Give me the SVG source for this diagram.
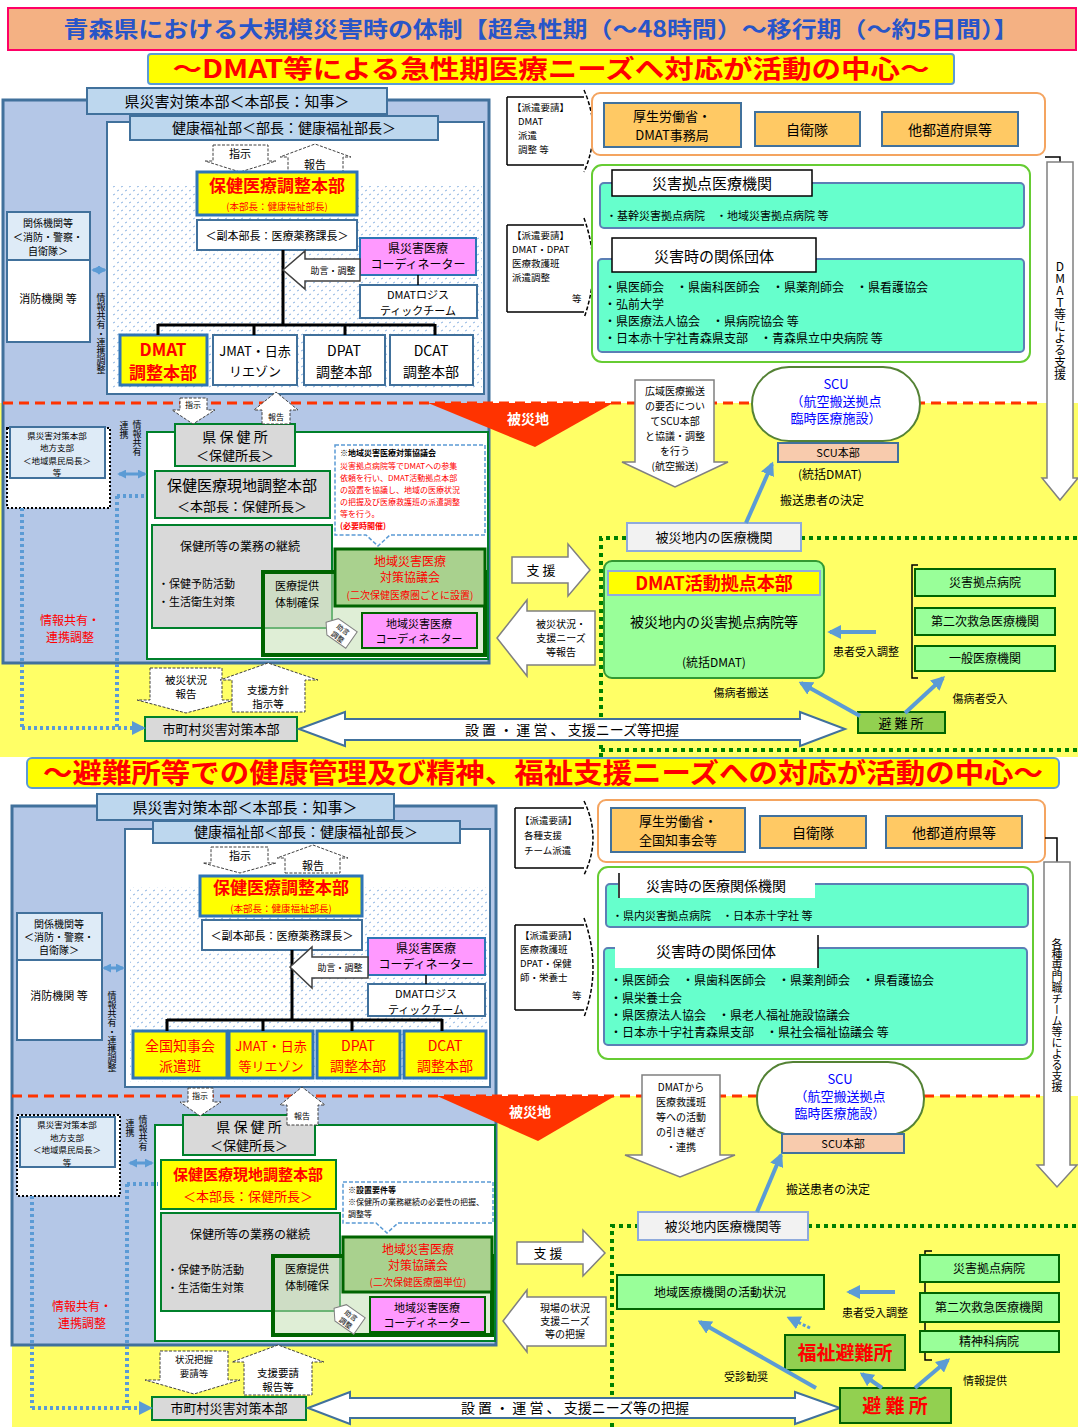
<svg xmlns="http://www.w3.org/2000/svg" width="1078" height="1427" viewBox="0 0 1078 1427">
<defs>
<style>
text{font-family:"Noto Sans CJK JP","Noto Sans",sans-serif;fill:#000}
.c{text-anchor:middle}
.b{font-weight:bold}
.r{fill:#FF0000}
.bl{fill:#0000FF}
.w{fill:#fff}
.v{writing-mode:vertical-rl;text-orientation:upright}
.panel{fill:#B4C7E7;stroke:#41719C;stroke-width:3}
.lb{fill:#BDD7EE;stroke:#41719C;stroke-width:2}
.lb2{fill:#DEEBF7;stroke:#41719C;stroke-width:2}
.wb{fill:#fff;stroke:#41719C;stroke-width:2}
.yb{fill:#FFFF00;stroke:#2E75B6;stroke-width:3}
.yg{fill:#FFFF00;stroke:#00802B;stroke-width:2}
.pk{fill:#FF99FF;stroke:#2E75B6;stroke-width:2}
.pkg{fill:#FF99FF;stroke:#006400;stroke-width:2}
.gy{fill:#D9D9D9;stroke:#00802B;stroke-width:2}
.gw{fill:#fff;stroke:#00802B;stroke-width:2}
.ov{fill:#C5E0B4;fill-opacity:0.55;stroke:#006400;stroke-width:4}
.kg{fill:#A9D18E;stroke:#006400;stroke-width:3}
.or{fill:#FFC964;stroke:#41719C;stroke-width:2}
.obox{fill:#fff;stroke:#F4A460;stroke-width:2}
.gbox{fill:#fff;stroke:#66CC33;stroke-width:2}
.tq{fill:#66FFCC;stroke:#5B7FB5;stroke-width:2}
.tab{fill:#fff;stroke:#000;stroke-width:1.5}
.lg{fill:#99FF99;stroke:#339933;stroke-width:2}
.lg2{fill:#99FF99;stroke:#006400;stroke-width:2}
.ga{fill:#92D050;stroke:#006400;stroke-width:2}
.lgr{fill:#F2F2F2;stroke:#8FAADC;stroke-width:2}
.arw{fill:#fff;stroke:#404040;stroke-width:1;stroke-dasharray:3 1.5}
.sarw{fill:#fff;stroke:#808080;stroke-width:1.5}
.bigarw{fill:#fff;stroke:#41719C;stroke-width:2}
.ln{stroke:#000;stroke-width:3;fill:none}
.ln1{stroke:#000;stroke-width:1.5;fill:none}
.ba{stroke:#5B9BD5;stroke-width:4;fill:none;marker-end:url(#ah)}
.bad{stroke:#5B9BD5;stroke-width:3;fill:none;stroke-dasharray:3 2;marker-end:url(#ah)}
.dbl{stroke:#5B9BD5;stroke-width:3;fill:none;marker-start:url(#ah2);marker-end:url(#ah2)}
.bd{stroke:#5B9BD5;stroke-width:4;fill:none;stroke-dasharray:3 3}
.bde{stroke:#5B9BD5;stroke-width:4;fill:none;stroke-dasharray:3 3;marker-end:url(#ah)}
.rd{stroke:#FF3300;stroke-width:3;stroke-dasharray:10 6;fill:none}
.gd{stroke:#008000;stroke-width:4;stroke-dasharray:4 4;fill:none}
.call{fill:#fff;stroke:#5B9BD5;stroke-width:1.5;stroke-dasharray:4 2}
.kd{fill:#fff;stroke:#000;stroke-width:2;stroke-dasharray:2 2}
</style>
<pattern id="dots" width="8" height="8" patternUnits="userSpaceOnUse">
<rect width="8" height="8" fill="#fff"/>
<path d="M1,3 l2,-1 M5,7 l2,-1" stroke="#8DB4E2" stroke-width="1"/>
</pattern>
<marker id="ah" markerUnits="userSpaceOnUse" markerWidth="14" markerHeight="14" viewBox="0 0 10 10" refX="8" refY="5" orient="auto">
<path d="M0,0 L10,5 L0,10 z" fill="#5B9BD5"/>
</marker>
<marker id="ah2" markerUnits="userSpaceOnUse" markerWidth="9" markerHeight="9" viewBox="0 0 10 10" refX="8" refY="5" orient="auto-start-reverse">
<path d="M0,0 L10,5 L0,10 z" fill="#5B9BD5"/>
</marker>
</defs>

<rect width="1078" height="1427" fill="#fff"/>

<!-- backgrounds -->
<g id="backgrounds">
<rect x="0" y="403" width="1078" height="354" fill="#FFFF66"/>
<rect x="12" y="1096" width="1066" height="331" fill="#FFFF66"/>
<rect class="panel" x="3" y="100" width="486" height="563"/>
<rect class="panel" x="12" y="806" width="484" height="539"/>
<path class="gd" d="M601,757 V538 H627 M801,538 H1078 M601,750 H1078"/>
<path class="gd" d="M612,1427 V1226 H638 M808,1226 H1078"/>
</g>

<!-- titles -->
<g id="title">
<rect x="8" y="8" width="1068" height="42" fill="#F4B183" stroke="#FF0066" stroke-width="2"/>
<text x="541" y="37" class="c b" font-size="22" style="fill:#2855C8" textLength="955" lengthAdjust="spacingAndGlyphs">青森県における大規模災害時の体制【超急性期（～48時間）～移行期（～約5日間）】</text>
</g>
<g id="subtitle1">
<rect x="148" y="54" width="806" height="30" rx="3" fill="#FFFF00" stroke="#5B9BD5" stroke-width="2"/>
<text x="551" y="78" class="c b r" font-size="25" textLength="757" lengthAdjust="spacingAndGlyphs">～DMAT等による急性期医療ニーズへ対応が活動の中心～</text>
</g>
<g id="subtitle2">
<rect x="27" y="758" width="1032" height="30" rx="5" fill="#FFFF00" stroke="#5B9BD5" stroke-width="2"/>
<text x="543" y="783" class="c b r" font-size="27" textLength="1000" lengthAdjust="spacingAndGlyphs">～避難所等での健康管理及び精神、福祉支援ニーズへの対応が活動の中心～</text>
</g>

<!-- ===== UPPER HALF ===== -->
<g id="u-inner">
<rect class="wb" x="107" y="122" width="377" height="272"/>
<rect x="113" y="186" width="369" height="203" fill="url(#dots)"/>
</g>
<g id="u-kensaitai">
<rect class="lb" x="87" y="88" width="300" height="26"/>
<text x="237" y="107" class="c" font-size="15">県災害対策本部＜本部長：知事＞</text>
</g>
<g id="u-kenkofukushi">
<rect class="lb" x="130" y="116" width="308" height="24"/>
<text x="284" y="133" class="c" font-size="14">健康福祉部＜部長：健康福祉部長＞</text>
</g>
<g id="u-shiji">
<polygon class="arw" points="213,145 268,145 268,161 276,161 240,172 205,161 213,161"/>
<text x="240" y="158" class="c" font-size="11">指示</text>
</g>
<g id="u-hokoku">
<polygon class="arw" points="288,172 343,172 343,157 351,157 315,144 280,157 288,157"/>
<text x="315" y="169" class="c" font-size="11">報告</text>
</g>
<g id="u-chosei">
<rect class="yb" x="197" y="172" width="160" height="43"/>
<text x="277" y="192" class="c b r" font-size="17">保健医療調整本部</text>
<text x="277" y="210" class="c r" font-size="9.5">(本部長：健康福祉部長)</text>
</g>
<g id="u-fuku">
<rect class="wb" x="197" y="220" width="160" height="30"/>
<text x="277" y="240" class="c" font-size="11">＜副本部長：医療薬務課長＞</text>
</g>
<g id="u-coord">
<rect class="pk" x="360" y="238" width="116" height="37"/>
<text x="418" y="253" class="c" font-size="12">県災害医療</text>
<text x="418" y="269" class="c" font-size="12">コーディネーター</text>
</g>
<g id="u-logi">
<rect class="wb" x="360" y="285" width="117" height="33"/>
<text x="418" y="299" class="c" font-size="11">DMATロジス</text>
<text x="418" y="315" class="c" font-size="11">ティックチーム</text>
</g>
<g id="u-dmat">
<rect class="yb" x="120" y="335" width="87" height="50"/>
<text x="163" y="356" class="c b r" font-size="17">DMAT</text>
<text x="163" y="379" class="c b r" font-size="17">調整本部</text>
</g>
<g id="u-jmat">
<rect class="wb" x="213" y="335" width="84" height="50"/>
<text x="255" y="356" class="c" font-size="13">JMAT・日赤</text>
<text x="255" y="376" class="c" font-size="13">リエゾン</text>
</g>
<g id="u-dpat">
<rect class="wb" x="304" y="335" width="81" height="50"/>
<text x="344" y="356" class="c" font-size="14">DPAT</text>
<text x="344" y="377" class="c" font-size="14">調整本部</text>
</g>
<g id="u-dcat">
<rect class="wb" x="390" y="335" width="83" height="50"/>
<text x="431" y="356" class="c" font-size="14">DCAT</text>
<text x="431" y="377" class="c" font-size="14">調整本部</text>
</g>
<g id="u-kankei">
<rect class="lb2" x="7" y="212" width="83" height="48"/>
<text x="48" y="227" class="c" font-size="10">関係機関等</text>
<text x="48" y="241" class="c" font-size="10">＜消防・警察・</text>
<text x="48" y="255" class="c" font-size="10">自衛隊＞</text>
</g>
<g id="u-shobo">
<rect class="wb" x="7" y="260" width="83" height="82"/>
<text x="48" y="303" class="c" font-size="11">消防機関 等</text>
</g>
<text x="101" y="334" class="c v" font-size="9">情報共有・連携調整</text>

<g id="u-shibu">
<rect class="kd" x="7" y="428" width="103" height="80"/>
<rect class="lb2" x="10" y="427" width="95" height="51"/>
<text x="57" y="438.5" class="c" font-size="8.5">県災害対策本部</text>
<text x="57" y="451" class="c" font-size="8.5">地方支部</text>
<text x="57" y="463.5" class="c" font-size="8.5">＜地域県民局長＞</text>
<text x="57" y="476" class="c" font-size="8.5">等</text>
</g>
<text x="137" y="438" class="c v" font-size="9">情報共有</text>
<text x="124" y="430" class="c v" font-size="9">連携</text>
<text x="70" y="625" class="c r" font-size="12">情報共有・</text>
<text x="70" y="642" class="c r" font-size="12">連携調整</text>

<g id="u-area">
<rect class="gw" x="147" y="432" width="341" height="227"/>
</g>
<g id="u-hokenjo">
<rect class="gy" x="175" y="424" width="120" height="42"/>
<text x="235" y="442" class="c" font-size="14">県 保 健 所</text>
<text x="235" y="460" class="c" font-size="13">＜保健所長＞</text>
</g>
<g id="u-genchi">
<rect class="gy" x="155" y="471" width="175" height="47"/>
<text x="242" y="491" class="c" font-size="15">保健医療現地調整本部</text>
<text x="242" y="511" class="c" font-size="13">＜本部長：保健所長＞</text>
</g>
<g id="u-callout">
<path class="call" d="M335,445 H485 V535 H390 L378,546 L366,535 H335 Z"/>
<text x="340" y="456" font-size="8" class="b">※地域災害医療対策協議会</text>
<text x="340" y="469" font-size="8" class="r">災害拠点病院等でDMATへの参集</text>
<text x="340" y="481" font-size="8" class="r">依頼を行い、DMAT活動拠点本部</text>
<text x="340" y="493" font-size="8" class="r">の設置を協議し、地域の医療状況</text>
<text x="340" y="505" font-size="8" class="r">の把握及び医療救護班の派遣調整</text>
<text x="340" y="517" font-size="8" class="r">等を行う。</text>
<text x="340" y="529" font-size="8" class="r b">(必要時開催)</text>
</g>
<g id="u-gyomu">
<rect class="gy" x="152" y="525" width="180" height="103"/>
<text x="240" y="551" class="c" font-size="12">保健所等の業務の継続</text>
<text x="158" y="588" font-size="11">・保健予防活動</text>
<text x="158" y="606" font-size="11">・生活衛生対策</text>
</g>
<g id="u-iryoteikyo">
<rect class="ov" x="263" y="572" width="222" height="83"/>
<text x="297" y="590" class="c" font-size="11">医療提供</text>
<text x="297" y="607" class="c" font-size="11">体制確保</text>
</g>
<g id="u-kyogikai">
<rect class="kg" x="335" y="549" width="150" height="57"/>
<text x="410" y="566" class="c r" font-size="12">地域災害医療</text>
<text x="410" y="582" class="c r" font-size="12">対策協議会</text>
<text x="410" y="599" class="c r" font-size="10">(二次保健医療圏ごとに設置)</text>
</g>
<g id="u-chiikicoord">
<rect class="pkg" x="362" y="613" width="115" height="35"/>
<text x="419" y="628" class="c" font-size="11">地域災害医療</text>
<text x="419" y="643" class="c" font-size="11">コーディネーター</text>
</g>
<g id="u-tag" transform="translate(340,632) rotate(35)">
<polygon points="-17,0 -9,-10 14,-10 14,10 -9,10" fill="#fff" stroke="#808080" stroke-width="1"/>
<text x="1" y="-1" class="c" font-size="7">助言</text>
<text x="1" y="8" class="c" font-size="7">調整</text>
</g>
<g id="u-hisai-hokoku">
<polygon class="arw" points="150,668 222,668 222,700 235,700 186,713 137,700 150,700"/>
<text x="186" y="684" class="c" font-size="10.5">被災状況</text>
<text x="186" y="698" class="c" font-size="10.5">報告</text>
</g>
<g id="u-shien-shiji">
<polygon class="arw" points="232,712 305,712 305,680 318,680 268,663 220,680 232,680"/>
<text x="268" y="694" class="c" font-size="10.5">支援方針</text>
<text x="268" y="708" class="c" font-size="10.5">指示等</text>
</g>
<g id="u-shichoson">
<rect class="gy" x="145" y="717" width="152" height="24"/>
<text x="221" y="734" class="c" font-size="13">市町村災害対策本部</text>
</g>
<g id="u-setti">
<polygon class="bigarw" points="299,729 345,712 345,719 800,719 800,712 845,729 800,746 800,740 345,740 345,746"/>
<text x="572" y="735" class="c" font-size="14">設 置 ・ 運 営 、 支援ニーズ等把握</text>
</g>

<g id="u-haken1">
<path d="M507,97 H584 M507,165 H584 M507,97 V165" class="ln1"/>
<path d="M584,90 Q602,131 584,172" fill="none" stroke="#000" stroke-width="1.5" stroke-dasharray="4 2"/>
<text x="512" y="111" font-size="9.5">【派遣要請】</text>
<text x="518" y="125" font-size="9.5">DMAT</text>
<text x="518" y="139" font-size="9.5">派遣</text>
<text x="518" y="153" font-size="9.5">調整 等</text>
</g>
<g id="u-haken2">
<path d="M507,225 H584 M507,312 H584 M507,225 V312" class="ln1"/>
<path d="M584,218 Q602,268 584,318" fill="none" stroke="#000" stroke-width="1.5" stroke-dasharray="4 2"/>
<text x="512" y="239" font-size="9.5">【派遣要請】</text>
<text x="512" y="253" font-size="9.5">DMAT・DPAT</text>
<text x="512" y="267" font-size="9.5">医療救護班</text>
<text x="512" y="281" font-size="9.5">派遣調整</text>
<text x="572" y="302" font-size="9.5">等</text>
</g>
<g id="u-kuni">
<rect class="obox" x="592" y="93" width="453" height="62" rx="8"/>
<rect class="or" x="604" y="103" width="137" height="44"/>
<text x="672" y="121" class="c" font-size="13">厚生労働省・</text>
<text x="672" y="140" class="c" font-size="13">DMAT事務局</text>
<rect class="or" x="755" y="112" width="105" height="34"/>
<text x="807" y="135" class="c" font-size="14">自衛隊</text>
<rect class="or" x="882" y="112" width="136" height="34"/>
<text x="950" y="135" class="c" font-size="14">他都道府県等</text>
</g>
<g id="u-kikan">
<rect class="gbox" x="592" y="165" width="438" height="197" rx="10"/>
<rect class="tq" x="600" y="183" width="424" height="45" rx="4"/>
<rect class="tab" x="612" y="170" width="200" height="26"/>
<text x="712" y="189" class="c" font-size="15">災害拠点医療機関</text>
<text x="606" y="220" font-size="11">・基幹災害拠点病院　・地域災害拠点病院 等</text>
<rect class="tq" x="598" y="259" width="426" height="93" rx="4"/>
<rect class="tab" x="612" y="238" width="204" height="34"/>
<text x="714" y="262" class="c" font-size="15">災害時の関係団体</text>
<text x="604" y="292" font-size="12">・県医師会　・県歯科医師会　・県薬剤師会　・県看護協会</text>
<text x="604" y="309" font-size="12">・弘前大学</text>
<text x="604" y="326" font-size="12">・県医療法人協会　・県病院協会 等</text>
<text x="604" y="343" font-size="12">・日本赤十字社青森県支部　・青森県立中央病院 等</text>
</g>
<g id="u-shien-v">
<polyline points="1045,157 1060,157 1060,162" class="ln1"/>
<polygon class="sarw" points="1047,162 1073,162 1073,478 1078,478 1060,500 1042,478 1047,478"/>
<text x="1060" y="320" class="c v" font-size="12">DMAT等による支援</text>
</g>
<g id="u-redline">
<path class="rd" d="M3,403 H1042"/>
<polygon points="428,403 613,403 535,447" fill="#FF3300"/>
<text x="528" y="424" class="c b w" font-size="14">被災地</text>
</g>
<g id="u-kouiki">
<polygon class="sarw" points="635,380 714,380 714,462 728,462 675,487 622,462 635,462"/>
<text x="675" y="395" class="c" font-size="10">広域医療搬送</text>
<text x="675" y="410" class="c" font-size="10">の要否につい</text>
<text x="675" y="425" class="c" font-size="10">てSCU本部</text>
<text x="675" y="440" class="c" font-size="10">と協議・調整</text>
<text x="675" y="455" class="c" font-size="10">を行う</text>
<text x="675" y="470" class="c" font-size="10">(航空搬送)</text>
</g>
<g id="u-shiji2">
<polygon class="arw" points="180,398 207,398 207,410 215,410 193,424 172,410 180,410"/>
<text x="193" y="408" class="c" font-size="8">指示</text>
</g>
<g id="u-hokoku2">
<polygon class="arw" points="262,424 290,424 290,410 298,410 276,392 254,410 262,410"/>
<text x="276" y="420" class="c" font-size="8">報告</text>
</g>
<g id="u-scu">
<rect x="752" y="367" width="168" height="74" rx="37" fill="#fff" stroke="#548235" stroke-width="2"/>
<text x="836" y="389" class="c bl" font-size="13">SCU</text>
<text x="836" y="406" class="c bl" font-size="13">（航空搬送拠点</text>
<text x="836" y="423" class="c bl" font-size="13">臨時医療施設）</text>
<rect x="778" y="443" width="120" height="19" fill="#F8CBAD" stroke="#41719C" stroke-width="2"/>
<text x="838" y="457" class="c" font-size="11">SCU本部</text>
<text x="830" y="479" class="c" font-size="12">(統括DMAT)</text>
</g>
<text x="822" y="505" class="c" font-size="12">搬送患者の決定</text>
<g id="u-hisaichi-iryo">
<rect class="lgr" x="627" y="523" width="174" height="28"/>
<text x="714" y="542" class="c" font-size="13">被災地内の医療機関</text>
</g>
<g id="u-kyoten">
<rect class="lg" x="604" y="561" width="220" height="117" rx="8"/>
<rect x="608" y="571" width="212" height="24" fill="#FFFF00" stroke="#8FAADC" stroke-width="2"/>
<text x="714" y="590" class="c b r" font-size="18">DMAT活動拠点本部</text>
<text x="714" y="627" class="c" font-size="14">被災地内の災害拠点病院等</text>
<text x="714" y="667" class="c" font-size="12">(統括DMAT)</text>
</g>
<g id="u-shien-arrow">
<polygon class="sarw" points="512,557 568,557 568,544 590,570 568,596 568,583 512,583"/>
<text x="541" y="575" class="c" font-size="13">支 援</text>
</g>
<g id="u-needs-arrow">
<polygon class="sarw" points="497,638 527,600 527,611 595,611 595,665 527,665 527,676"/>
<text x="561" y="628" class="c" font-size="10">被災状況・</text>
<text x="561" y="642" class="c" font-size="10">支援ニーズ</text>
<text x="561" y="656" class="c" font-size="10">等報告</text>
</g>
<g id="u-byoin">
<path d="M918,565 H912 V678 H918" class="ln1" stroke-width="2"/>
<rect class="lg2" x="915" y="569" width="140" height="27"/>
<text x="985" y="587" class="c" font-size="12">災害拠点病院</text>
<rect class="lg2" x="915" y="608" width="140" height="27"/>
<text x="985" y="626" class="c" font-size="12">第二次救急医療機関</text>
<rect class="lg2" x="915" y="646" width="140" height="25"/>
<text x="985" y="663" class="c" font-size="12">一般医療機関</text>
</g>
<text x="866" y="656" class="c" font-size="11">患者受入調整</text>
<text x="741" y="697" class="c" font-size="11">傷病者搬送</text>
<text x="980" y="703" class="c" font-size="11">傷病者受入</text>
<g id="u-hinanjo">
<rect class="ga" x="858" y="712" width="87" height="21"/>
<text x="901" y="728" class="c" font-size="13">避 難 所</text>
</g>

<!-- ===== LOWER HALF ===== -->
<g id="l-inner">
<rect class="wb" x="125" y="829" width="365" height="258"/>
<rect x="130" y="887" width="357" height="195" fill="url(#dots)"/>
</g>
<g id="l-kensaitai">
<rect class="lb" x="97" y="794" width="297" height="26"/>
<text x="245" y="813" class="c" font-size="15">県災害対策本部＜本部長：知事＞</text>
</g>
<g id="l-kenkofukushi">
<rect class="lb" x="153" y="821" width="307" height="22"/>
<text x="306" y="837" class="c" font-size="14">健康福祉部＜部長：健康福祉部長＞</text>
</g>
<g id="l-shiji">
<polygon class="arw" points="211,847 268,847 268,863 276,863 240,873 203,863 211,863"/>
<text x="240" y="860" class="c" font-size="11">指示</text>
</g>
<g id="l-hokoku">
<polygon class="arw" points="285,873 340,873 340,858 348,858 313,845 277,858 285,858"/>
<text x="313" y="870" class="c" font-size="11">報告</text>
</g>
<g id="l-chosei">
<rect class="yb" x="200" y="876" width="162" height="40"/>
<text x="281" y="894" class="c b r" font-size="17">保健医療調整本部</text>
<text x="281" y="911.5" class="c r" font-size="9.5">(本部長：健康福祉部長)</text>
</g>
<g id="l-fuku">
<rect class="wb" x="202" y="920" width="160" height="30"/>
<text x="282" y="940" class="c" font-size="11">＜副本部長：医療薬務課長＞</text>
</g>
<g id="l-coord">
<rect class="pk" x="368" y="938" width="117" height="37"/>
<text x="426" y="953" class="c" font-size="12">県災害医療</text>
<text x="426" y="969" class="c" font-size="12">コーディネーター</text>
</g>
<g id="l-logi">
<rect class="wb" x="368" y="984" width="117" height="32"/>
<text x="426" y="998" class="c" font-size="11">DMATロジス</text>
<text x="426" y="1014" class="c" font-size="11">ティックチーム</text>
</g>
<g id="l-team1">
<rect class="yb" x="133" y="1031" width="94" height="47"/>
<text x="180" y="1051" class="c r" font-size="14">全国知事会</text>
<text x="180" y="1071" class="c r" font-size="14">派遣班</text>
</g>
<g id="l-jmat">
<rect class="yb" x="229" y="1031" width="84" height="47"/>
<text x="271" y="1051" class="c r" font-size="13">JMAT・日赤</text>
<text x="271" y="1071" class="c r" font-size="13">等リエゾン</text>
</g>
<g id="l-dpat">
<rect class="yb" x="317" y="1031" width="83" height="47"/>
<text x="358" y="1051" class="c r" font-size="14">DPAT</text>
<text x="358" y="1071" class="c r" font-size="14">調整本部</text>
</g>
<g id="l-dcat">
<rect class="yb" x="404" y="1031" width="82" height="47"/>
<text x="445" y="1051" class="c r" font-size="14">DCAT</text>
<text x="445" y="1071" class="c r" font-size="14">調整本部</text>
</g>
<g id="l-kankei">
<rect class="lb2" x="17" y="913" width="85" height="47"/>
<text x="59" y="928" class="c" font-size="10">関係機関等</text>
<text x="59" y="941" class="c" font-size="10">＜消防・警察・</text>
<text x="59" y="954" class="c" font-size="10">自衛隊＞</text>
</g>
<g id="l-shobo">
<rect class="wb" x="17" y="960" width="85" height="80"/>
<text x="59" y="1000" class="c" font-size="11">消防機関 等</text>
</g>
<text x="112" y="1032" class="c v" font-size="9">情報共有・連携調整</text>

<g id="l-shibu">
<rect class="kd" x="17" y="1115" width="103" height="81"/>
<rect class="lb2" x="20" y="1117" width="95" height="50"/>
<text x="67" y="1128" class="c" font-size="8.5">県災害対策本部</text>
<text x="67" y="1140.5" class="c" font-size="8.5">地方支部</text>
<text x="67" y="1153" class="c" font-size="8.5">＜地域県民局長＞</text>
<text x="67" y="1165.5" class="c" font-size="8.5">等</text>
</g>
<text x="143" y="1133" class="c v" font-size="9">情報共有</text>
<text x="130" y="1128" class="c v" font-size="9">連携</text>
<text x="82" y="1311" class="c r" font-size="12">情報共有・</text>
<text x="82" y="1328" class="c r" font-size="12">連携調整</text>

<g id="l-area">
<rect class="gw" x="155" y="1125" width="340" height="216"/>
</g>
<g id="l-hokenjo">
<rect class="gy" x="183" y="1115" width="132" height="40"/>
<text x="249" y="1132" class="c" font-size="14">県 保 健 所</text>
<text x="249" y="1150" class="c" font-size="13">＜保健所長＞</text>
</g>
<g id="l-genchi">
<rect class="yg" x="161" y="1160" width="175" height="49"/>
<text x="248" y="1180" class="c b r" font-size="15">保健医療現地調整本部</text>
<text x="248" y="1201" class="c r" font-size="13">＜本部長：保健所長＞</text>
</g>
<g id="l-callout">
<path class="call" d="M343,1182 H493 V1223 H398 L387,1233 L376,1223 H343 Z"/>
<text x="348" y="1193" font-size="8" class="b">※設置要件等</text>
<text x="348" y="1205" font-size="8">※保健所の業務継続の必要性の把握、</text>
<text x="348" y="1217" font-size="8">調整等</text>
</g>
<g id="l-gyomu">
<rect class="gy" x="161" y="1213" width="179" height="98"/>
<text x="250" y="1239" class="c" font-size="12">保健所等の業務の継続</text>
<text x="167" y="1274" font-size="11">・保健予防活動</text>
<text x="167" y="1292" font-size="11">・生活衛生対策</text>
</g>
<g id="l-iryoteikyo">
<rect class="ov" x="273" y="1256" width="219" height="79"/>
<text x="307" y="1273" class="c" font-size="11">医療提供</text>
<text x="307" y="1290" class="c" font-size="11">体制確保</text>
</g>
<g id="l-kyogikai">
<rect class="kg" x="343" y="1237" width="149" height="55"/>
<text x="418" y="1254" class="c r" font-size="12">地域災害医療</text>
<text x="418" y="1270" class="c r" font-size="12">対策協議会</text>
<text x="418" y="1286" class="c r" font-size="10">(二次保健医療圏単位)</text>
</g>
<g id="l-chiikicoord">
<rect class="pkg" x="370" y="1297" width="115" height="35"/>
<text x="427" y="1312" class="c" font-size="11">地域災害医療</text>
<text x="427" y="1327" class="c" font-size="11">コーディネーター</text>
</g>
<g id="l-tag" transform="translate(348,1318) rotate(35)">
<polygon points="-17,0 -9,-10 14,-10 14,10 -9,10" fill="#fff" stroke="#808080" stroke-width="1"/>
<text x="1" y="-1" class="c" font-size="7">助言</text>
<text x="1" y="8" class="c" font-size="7">調整</text>
</g>
<g id="l-jokyo">
<polygon class="arw" points="160,1351 228,1351 228,1380 240,1380 194,1394 145,1380 160,1380"/>
<text x="194" y="1363" class="c" font-size="9.5">状況把握</text>
<text x="194" y="1377" class="c" font-size="9.5">要請等</text>
</g>
<g id="l-yosei">
<polygon class="arw" points="244,1395 312,1395 312,1362 324,1362 278,1345 232,1362 244,1362"/>
<text x="278" y="1377" class="c" font-size="10.5">支援要請</text>
<text x="278" y="1391" class="c" font-size="10.5">報告等</text>
</g>
<g id="l-shichoson">
<rect class="gy" x="152" y="1397" width="154" height="23"/>
<text x="229" y="1413" class="c" font-size="13">市町村災害対策本部</text>
</g>
<g id="l-setti">
<polygon class="bigarw" points="308,1408 350,1392 350,1398 795,1398 795,1392 840,1408 795,1424 795,1418 350,1418 350,1424"/>
<text x="575" y="1413" class="c" font-size="14">設 置 ・ 運 営 、 支援ニーズ等の把握</text>
</g>

<g id="l-haken1">
<path d="M515,808 H584 M515,868 H584 M515,808 V868" class="ln1"/>
<path d="M584,801 Q602,838 584,875" fill="none" stroke="#000" stroke-width="1.5" stroke-dasharray="4 2"/>
<text x="520" y="824" font-size="9.5">【派遣要請】</text>
<text x="524" y="839" font-size="9.5">各種支援</text>
<text x="524" y="854" font-size="9.5">チーム派遣</text>
</g>
<g id="l-haken2">
<path d="M515,925 H584 M515,1010 H584 M515,925 V1010" class="ln1"/>
<path d="M584,918 Q602,968 584,1017" fill="none" stroke="#000" stroke-width="1.5" stroke-dasharray="4 2"/>
<text x="520" y="939" font-size="9.5">【派遣要請】</text>
<text x="520" y="953" font-size="9.5">医療救護班</text>
<text x="520" y="967" font-size="9.5">DPAT・保健</text>
<text x="520" y="981" font-size="9.5">師・栄養士</text>
<text x="572" y="999" font-size="9.5">等</text>
</g>
<g id="l-kuni">
<rect class="obox" x="598" y="800" width="447" height="62" rx="8"/>
<rect class="or" x="611" y="808" width="134" height="44"/>
<text x="678" y="826" class="c" font-size="13">厚生労働省・</text>
<text x="678" y="845" class="c" font-size="13">全国知事会等</text>
<rect class="or" x="760" y="816" width="106" height="32"/>
<text x="813" y="838" class="c" font-size="14">自衛隊</text>
<rect class="or" x="886" y="816" width="136" height="32"/>
<text x="954" y="838" class="c" font-size="14">他都道府県等</text>
</g>
<g id="l-kikan">
<rect class="gbox" x="598" y="867" width="435" height="192" rx="10"/>
<rect class="tq" x="606" y="884" width="422" height="43" rx="4"/>
<rect x="618" y="873" width="197" height="25" fill="#fff"/>
<path d="M619,873 V898" class="ln1" stroke-width="2"/>
<text x="716" y="891" class="c" font-size="14">災害時の医療関係機関</text>
<text x="612" y="920" font-size="11">・県内災害拠点病院　・日本赤十字社 等</text>
<rect class="tq" x="604" y="948" width="423" height="97" rx="4"/>
<rect x="615" y="935" width="203" height="33" fill="#fff"/>
<path d="M818,935 V968" class="ln1" stroke-width="2"/>
<text x="716" y="957" class="c" font-size="15">災害時の関係団体</text>
<text x="610" y="985" font-size="12">・県医師会　・県歯科医師会　・県薬剤師会　・県看護協会</text>
<text x="610" y="1003" font-size="12">・県栄養士会</text>
<text x="610" y="1020" font-size="12">・県医療法人協会　・県老人福祉施設協議会</text>
<text x="610" y="1037" font-size="12">・日本赤十字社青森県支部　・県社会福祉協議会 等</text>
</g>
<g id="l-shien-v">
<polyline points="1045,838 1057,838 1057,862" class="ln1"/>
<polygon class="sarw" points="1044,862 1070,862 1070,1165 1077,1165 1057,1187 1037,1165 1044,1165"/>
<text x="1057" y="1015" class="c v" font-size="11">各種専門職チーム等による支援</text>
</g>
<g id="l-redline">
<path class="rd" d="M12,1096 H1040"/>
<polygon points="437,1096 615,1096 538,1141" fill="#FF3300"/>
<text x="530" y="1117" class="c b w" font-size="14">被災地</text>
</g>
<g id="l-shiji2">
<polygon class="arw" points="188,1088 213,1088 213,1102 221,1102 200,1116 180,1102 188,1102"/>
<text x="200" y="1099" class="c" font-size="8">指示</text>
</g>
<g id="l-hokoku2">
<polygon class="arw" points="287,1125 318,1125 318,1105 325,1105 302,1087 280,1105 287,1105"/>
<text x="302" y="1119" class="c" font-size="8">報告</text>
</g>
<g id="l-hikitsugi">
<polygon class="sarw" points="642,1075 720,1075 720,1155 735,1155 680,1177 625,1155 642,1155"/>
<text x="681" y="1091" class="c" font-size="10">DMATから</text>
<text x="681" y="1106" class="c" font-size="10">医療救護班</text>
<text x="681" y="1121" class="c" font-size="10">等への活動</text>
<text x="681" y="1136" class="c" font-size="10">の引き継ぎ</text>
<text x="681" y="1151" class="c" font-size="10">・連携</text>
</g>
<g id="l-scu">
<rect x="757" y="1062" width="167" height="73" rx="36" fill="#fff" stroke="#548235" stroke-width="2"/>
<text x="840" y="1084" class="c bl" font-size="13">SCU</text>
<text x="840" y="1101" class="c bl" font-size="13">（航空搬送拠点</text>
<text x="840" y="1118" class="c bl" font-size="13">臨時医療施設）</text>
<rect x="782" y="1134" width="122" height="19" fill="#F8CBAD" stroke="#41719C" stroke-width="2"/>
<text x="843" y="1148" class="c" font-size="11">SCU本部</text>
</g>
<text x="828" y="1194" class="c" font-size="12">搬送患者の決定</text>
<g id="l-hisaichi-iryo">
<rect class="lgr" x="638" y="1212" width="170" height="28"/>
<text x="723" y="1231" class="c" font-size="13">被災地内医療機関等</text>
</g>
<g id="l-shien-arrow">
<polygon class="sarw" points="517,1242 583,1242 583,1230 605,1253 583,1276 583,1264 517,1264"/>
<text x="548" y="1258" class="c" font-size="13">支 援</text>
</g>
<g id="l-needs-arrow">
<polygon class="sarw" points="503,1321 527,1290 527,1297 606,1297 606,1346 527,1346 527,1352"/>
<text x="565" y="1312" class="c" font-size="10">現場の状況</text>
<text x="565" y="1325" class="c" font-size="10">支援ニーズ</text>
<text x="565" y="1338" class="c" font-size="10">等の把握</text>
</g>
<g id="l-katsudo">
<rect class="lg2" x="617" y="1275" width="207" height="34"/>
<text x="720" y="1297" class="c" font-size="12">地域医療機関の活動状況</text>
</g>
<g id="l-byoin">
<path d="M932,1251 H925 V1360 H932" class="ln1" stroke-width="2"/>
<rect class="lg2" x="920" y="1255" width="139" height="27"/>
<text x="989" y="1273" class="c" font-size="12">災害拠点病院</text>
<rect class="lg2" x="920" y="1293" width="139" height="29"/>
<text x="989" y="1312" class="c" font-size="12">第二次救急医療機関</text>
<rect class="lg2" x="920" y="1331" width="139" height="21"/>
<text x="989" y="1346" class="c" font-size="12">精神科病院</text>
</g>
<text x="875" y="1317" class="c" font-size="11">患者受入調整</text>
<g id="l-fukushi">
<rect class="ga" x="785" y="1335" width="120" height="35"/>
<text x="845" y="1360" class="c b r" font-size="19">福祉避難所</text>
</g>
<text x="746" y="1381" class="c" font-size="11">受診勧奨</text>
<text x="985" y="1385" class="c" font-size="11">情報提供</text>
<g id="l-hinanjo">
<rect class="ga" x="840" y="1388" width="111" height="35"/>
<text x="895" y="1413" class="c b r" font-size="19">避 難 所</text>
</g>

<!-- connectors -->
<g id="connectors">
<path class="ln" d="M283,250 V325 M158,325 H435 M158,324 V335 M254,324 V335 M345,324 V335 M435,324 V335"/>
<path class="ln1" d="M418,275 V285" stroke-width="2"/>
<polygon points="283,270 305,251 305,259 360,259 360,281 305,281 305,289" fill="#fff" stroke="#404040" stroke-width="1.5"/>
<text x="333" y="274" class="c" font-size="9">助言・調整</text>
<path class="ln" d="M292,950 V1020 M167,1020 H442 M167,1019 V1031 M263,1019 V1031 M352,1019 V1031 M442,1019 V1031" stroke-width="2.5"/>
<path class="ln1" d="M426,975 V984" stroke-width="2"/>
<polygon points="290,967 312,947 312,957 368,957 368,978 312,978 312,988" fill="#fff" stroke="#404040" stroke-width="1.5"/>
<text x="340" y="971" class="c" font-size="9">助言・調整</text>
<path class="dbl" d="M93,270 H105"/>
<path class="dbl" d="M119,474 H145"/>
<path class="dbl" d="M104,968 H123"/>
<path class="dbl" d="M130,1163 H152"/>
<path class="bd" d="M22,508 V728 M117,496 V728 M117,496 H147"/>
<path class="bde" d="M22,728 H143"/>
<path class="bd" d="M32,1196 V1408 M127,1184 V1408 M127,1184 H158"/>
<path class="bde" d="M32,1408 H150"/>
<path class="ba" d="M746,523 L772,464"/>
<path class="ba" d="M876,632 H830"/>
<path class="ba" d="M860,716 L801,683"/>
<path class="ba" d="M905,713 L943,678"/>
<path class="ba" d="M757,1212 L781,1155"/>
<path class="ba" d="M895,1292 H849"/>
<path class="bad" d="M810,1328 L789,1318"/>
<path class="ba" d="M816,1388 L700,1322"/>
<path class="ba" d="M882,1388 L862,1374"/>
<path class="ba" d="M915,1388 L948,1360"/>
</g>
</svg>
